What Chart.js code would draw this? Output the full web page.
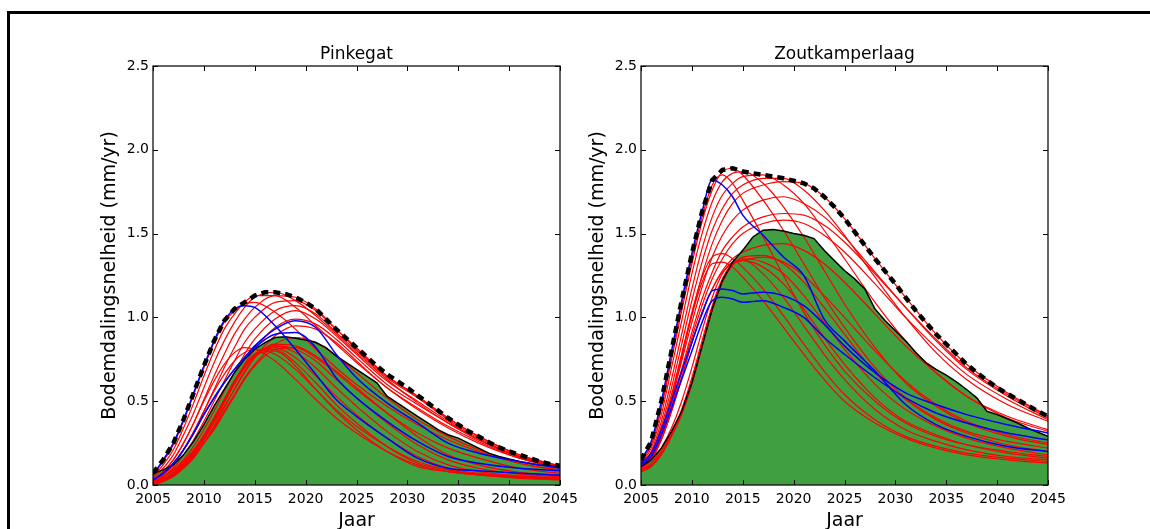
<!DOCTYPE html>
<html><head><meta charset="utf-8">
<script src="https://cdn.jsdelivr.net/npm/chart.js@4/dist/chart.umd.min.js"></script>
<style>
html,body{margin:0;padding:0;background:#fff;overflow:hidden;width:1150px;height:529px;}
#frame{position:absolute;left:7px;top:11px;width:1300px;height:700px;border:3px solid #000;box-sizing:border-box;}
#w1{position:absolute;left:0;top:0;width:600px;height:529px;}
#w2{position:absolute;left:580px;top:0;width:570px;height:529px;}
</style></head><body>
<div id="frame"></div>
<div id="w1"><canvas id="c1" width="600" height="529"></canvas></div>
<div id="w2"><canvas id="c2" width="570" height="529"></canvas></div>
<script>
// ---------- data ----------
const xTicks = [2005,2010,2015,2020,2025,2030,2035,2040,2045];
const yTicks = [0.0,0.5,1.0,1.5,2.0,2.5];
const titles = ['Pinkegat','Zoutkamperlaag'];
const xLabel = 'Jaar';
const yLabel = 'Bodemdalingsnelheid (mm/yr)';

const years = [2005,2006,2007,2008,2009,2010,2011,2012,2013,2014,2015,2017,2019,2021,2023,2025,2028,2031,2034,2037,2041,2045];
const yearsAnnual = [2005,2006,2007,2008,2009,2010,2011,2012,2013,2014,2015,2016,2017,2018,2019,2020,2021,2022,2023,2024,2025,2026,2027,2028,2029,2030,2031,2032,2033,2034,2035,2036,2037,2038,2039,2040,2041,2042,2043,2044,2045];

const pinkEnvelope = [0.07,0.15,0.25,0.39,0.55,0.71,0.86,0.98,1.05,1.09,1.13,1.15,1.15,1.14,1.12,1.09,1.05,0.99,0.93,0.875,0.82,0.765,0.71,0.66,0.62,0.58,0.535,0.49,0.445,0.40,0.36,0.32,0.29,0.255,0.225,0.20,0.18,0.16,0.14,0.125,0.115];
const pinkArea = [0.07,0.09,0.12,0.18,0.26,0.36,0.47,0.57,0.67,0.75,0.81,0.85,0.88,0.885,0.875,0.865,0.85,0.82,0.77,0.73,0.69,0.65,0.61,0.53,0.49,0.45,0.41,0.37,0.33,0.30,0.28,0.25,0.22,0.19,0.17,0.155,0.14,0.13,0.12,0.115,0.11];
const pinkRed = [
 [0.06,0.14,0.24,0.38,0.54,0.70,0.85,0.97,1.04,1.08,1.09,1.03,0.93,0.81,0.70,0.60,0.47,0.36,0.27,0.20,0.13,0.09],
 [0.05,0.12,0.21,0.34,0.49,0.65,0.80,0.93,1.02,1.09,1.13,1.13,1.06,0.95,0.84,0.73,0.58,0.45,0.34,0.25,0.16,0.105],
 [0.04,0.10,0.18,0.30,0.43,0.58,0.73,0.86,0.97,1.06,1.12,1.15,1.10,1.01,0.90,0.79,0.63,0.49,0.37,0.27,0.17,0.11],
 [0.03,0.08,0.15,0.25,0.37,0.51,0.65,0.78,0.90,0.99,1.06,1.13,1.12,1.05,0.93,0.82,0.65,0.53,0.40,0.29,0.18,0.115],
 [0.03,0.07,0.12,0.21,0.31,0.44,0.57,0.70,0.82,0.93,1.00,1.09,1.10,1.04,0.93,0.81,0.65,0.53,0.40,0.29,0.18,0.11],
 [0.02,0.05,0.10,0.18,0.27,0.38,0.50,0.62,0.74,0.85,0.93,1.04,1.07,1.02,0.91,0.80,0.64,0.52,0.39,0.28,0.17,0.11],
 [0.02,0.05,0.09,0.15,0.23,0.33,0.44,0.56,0.67,0.78,0.87,0.99,1.04,0.99,0.89,0.78,0.62,0.50,0.38,0.27,0.17,0.105],
 [0.02,0.04,0.08,0.14,0.21,0.30,0.40,0.51,0.62,0.72,0.81,0.94,0.99,0.96,0.87,0.76,0.60,0.48,0.37,0.27,0.165,0.10],
 [0.01,0.04,0.07,0.12,0.19,0.27,0.37,0.47,0.57,0.67,0.76,0.89,0.95,0.93,0.85,0.74,0.58,0.46,0.35,0.26,0.16,0.10],
 [0.01,0.03,0.06,0.11,0.17,0.25,0.34,0.44,0.54,0.64,0.72,0.84,0.88,0.85,0.77,0.67,0.52,0.39,0.29,0.21,0.13,0.085],
 [0.01,0.03,0.06,0.11,0.17,0.25,0.33,0.43,0.53,0.63,0.71,0.81,0.82,0.76,0.67,0.57,0.43,0.31,0.22,0.16,0.10,0.07],
 [0.01,0.03,0.07,0.13,0.20,0.29,0.40,0.51,0.62,0.71,0.78,0.82,0.76,0.65,0.53,0.42,0.28,0.17,0.10,0.07,0.05,0.04],
 [0.01,0.03,0.07,0.13,0.20,0.29,0.40,0.51,0.62,0.71,0.78,0.81,0.73,0.61,0.48,0.37,0.23,0.13,0.09,0.06,0.045,0.035],
 [0.01,0.03,0.06,0.12,0.19,0.28,0.39,0.50,0.61,0.70,0.77,0.80,0.71,0.57,0.44,0.33,0.20,0.11,0.08,0.06,0.04,0.03],
 [0.01,0.03,0.06,0.12,0.19,0.28,0.39,0.50,0.61,0.71,0.78,0.83,0.79,0.70,0.58,0.47,0.32,0.20,0.12,0.08,0.055,0.045],
 [0.01,0.03,0.06,0.11,0.18,0.27,0.38,0.49,0.60,0.70,0.77,0.83,0.81,0.74,0.63,0.52,0.37,0.24,0.15,0.10,0.065,0.05],
 [0.00,0.02,0.05,0.10,0.16,0.25,0.35,0.46,0.57,0.68,0.76,0.84,0.83,0.77,0.68,0.58,0.43,0.29,0.18,0.12,0.075,0.055],
 [0.03,0.08,0.15,0.25,0.37,0.50,0.62,0.72,0.79,0.82,0.81,0.74,0.63,0.51,0.40,0.31,0.20,0.12,0.08,0.06,0.045,0.035],
 [0.02,0.06,0.12,0.21,0.32,0.44,0.56,0.66,0.74,0.79,0.81,0.78,0.69,0.57,0.45,0.35,0.23,0.14,0.09,0.065,0.05,0.04]
];
const pinkBlue = [
 [0.06,0.15,0.25,0.39,0.55,0.71,0.86,0.98,1.05,1.07,1.06,0.95,0.81,0.66,0.51,0.41,0.28,0.16,0.10,0.085,0.07,0.06],
 [0.03,0.07,0.13,0.21,0.31,0.42,0.52,0.61,0.69,0.76,0.83,0.93,0.98,0.94,0.78,0.64,0.49,0.37,0.25,0.19,0.14,0.10],
 [0.03,0.07,0.13,0.21,0.31,0.42,0.52,0.61,0.69,0.76,0.82,0.90,0.91,0.82,0.64,0.52,0.38,0.26,0.17,0.13,0.10,0.085]
];

const zoutEnvelope = [0.15,0.26,0.50,0.80,1.10,1.38,1.63,1.82,1.88,1.89,1.87,1.86,1.85,1.84,1.83,1.815,1.80,1.77,1.72,1.66,1.59,1.51,1.43,1.35,1.275,1.20,1.12,1.04,0.97,0.90,0.84,0.78,0.72,0.67,0.625,0.58,0.545,0.51,0.475,0.44,0.41];
const zoutArea = [0.11,0.15,0.22,0.32,0.44,0.61,0.83,1.05,1.22,1.33,1.40,1.48,1.52,1.525,1.515,1.50,1.49,1.47,1.40,1.34,1.28,1.23,1.17,1.05,0.98,0.92,0.86,0.79,0.73,0.69,0.655,0.615,0.57,0.52,0.44,0.42,0.395,0.37,0.34,0.315,0.29];
const zoutRed = [
 [0.14,0.24,0.46,0.75,1.04,1.32,1.57,1.76,1.87,1.89,1.85,1.70,1.52,1.32,1.12,0.94,0.70,0.52,0.40,0.32,0.26,0.22],
 [0.14,0.24,0.47,0.77,1.07,1.35,1.60,1.79,1.85,1.80,1.70,1.48,1.25,1.03,0.84,0.68,0.50,0.37,0.29,0.24,0.20,0.17],
 [0.13,0.22,0.42,0.70,0.98,1.26,1.50,1.69,1.81,1.86,1.87,1.80,1.66,1.48,1.28,1.08,0.82,0.61,0.47,0.37,0.29,0.24],
 [0.12,0.20,0.38,0.63,0.90,1.17,1.41,1.60,1.73,1.80,1.84,1.85,1.79,1.68,1.52,1.35,1.09,0.86,0.67,0.53,0.40,0.32],
 [0.12,0.19,0.35,0.58,0.84,1.10,1.33,1.52,1.65,1.74,1.79,1.83,1.83,1.76,1.64,1.49,1.24,1.00,0.79,0.63,0.48,0.38],
 [0.11,0.18,0.33,0.54,0.78,1.02,1.25,1.44,1.58,1.68,1.74,1.79,1.81,1.80,1.72,1.59,1.35,1.12,0.90,0.72,0.55,0.41],
 [0.11,0.17,0.31,0.51,0.74,0.97,1.18,1.36,1.49,1.58,1.64,1.70,1.72,1.68,1.60,1.48,1.27,1.06,0.86,0.69,0.53,0.40],
 [0.10,0.16,0.29,0.48,0.69,0.91,1.11,1.27,1.40,1.48,1.54,1.60,1.62,1.61,1.55,1.45,1.26,1.06,0.87,0.70,0.54,0.41],
 [0.10,0.16,0.28,0.46,0.67,0.88,1.07,1.23,1.35,1.44,1.50,1.56,1.58,1.56,1.49,1.39,1.20,1.00,0.82,0.66,0.51,0.39],
 [0.10,0.15,0.27,0.44,0.64,0.85,1.03,1.17,1.28,1.35,1.39,1.43,1.44,1.40,1.32,1.21,1.02,0.83,0.67,0.53,0.41,0.33],
 [0.10,0.15,0.27,0.44,0.64,0.85,1.03,1.17,1.27,1.32,1.34,1.36,1.33,1.25,1.13,1.00,0.80,0.62,0.48,0.38,0.30,0.25],
 [0.10,0.16,0.30,0.52,0.78,1.03,1.24,1.36,1.38,1.35,1.30,1.17,1.01,0.84,0.68,0.54,0.39,0.29,0.23,0.19,0.16,0.14],
 [0.09,0.13,0.22,0.34,0.50,0.70,0.92,1.12,1.26,1.33,1.34,1.26,1.12,0.95,0.78,0.63,0.45,0.33,0.26,0.21,0.17,0.15],
 [0.09,0.12,0.20,0.31,0.45,0.64,0.86,1.07,1.23,1.32,1.34,1.30,1.20,1.05,0.88,0.72,0.52,0.38,0.30,0.24,0.19,0.16],
 [0.08,0.11,0.19,0.30,0.43,0.61,0.83,1.05,1.22,1.32,1.35,1.33,1.26,1.13,0.97,0.81,0.60,0.45,0.35,0.28,0.22,0.18],
 [0.08,0.11,0.18,0.29,0.42,0.60,0.82,1.04,1.21,1.31,1.36,1.37,1.32,1.21,1.06,0.90,0.67,0.51,0.39,0.31,0.24,0.20],
 [0.10,0.16,0.29,0.50,0.76,1.01,1.21,1.32,1.33,1.30,1.24,1.10,0.94,0.78,0.63,0.50,0.37,0.28,0.22,0.18,0.15,0.13]
];
const zoutBlue = [
 [0.15,0.26,0.50,0.80,1.10,1.38,1.63,1.82,1.79,1.72,1.61,1.49,1.36,1.25,0.99,0.86,0.68,0.48,0.36,0.29,0.23,0.20],
 [0.13,0.19,0.33,0.50,0.68,0.85,1.02,1.16,1.17,1.16,1.14,1.15,1.13,1.07,0.96,0.83,0.67,0.55,0.48,0.42,0.36,0.31],
 [0.12,0.17,0.30,0.46,0.63,0.80,0.97,1.10,1.12,1.11,1.09,1.10,1.06,1.00,0.88,0.78,0.64,0.52,0.43,0.37,0.31,0.27]
];

// ---------- helpers ----------
const FONT = "'DejaVu Sans', sans-serif";
const pts = (xs, ys) => xs.map((x, i) => ({x: x, y: ys[i]}));

const mplFrame = {
  id: 'mplFrame',
  afterDatasetsDraw(chart) {
    const {ctx, chartArea: a, scales: {x, y}} = chart;
    ctx.save();
    ctx.strokeStyle = '#000';
    ctx.lineWidth = 1;
    ctx.beginPath();
    x.ticks.forEach(t => {
      const px = Math.round(x.getPixelForValue(t.value)) + 0.5;
      ctx.moveTo(px, a.bottom); ctx.lineTo(px, a.bottom - 5);
      ctx.moveTo(px, a.top); ctx.lineTo(px, a.top + 5);
    });
    y.ticks.forEach(t => {
      const py = Math.round(y.getPixelForValue(t.value)) + 0.5;
      ctx.moveTo(a.left, py); ctx.lineTo(a.left + 5, py);
      ctx.moveTo(a.right, py); ctx.lineTo(a.right - 5, py);
    });
    ctx.stroke();
    ctx.lineWidth = 1.3;
    ctx.strokeStyle = '#111';
    ctx.strokeRect(a.left, a.top, a.right - a.left, a.bottom - a.top);
    ctx.restore();
  }
};

function makeChart(canvasId, title, envelope, area, reds, blues, geo) {
  const datasets = [];
  datasets.push({data: pts(yearsAnnual, envelope), borderColor: '#000', borderWidth: 4.5, borderDash: [7, 5], pointRadius: 0, fill: false, tension: 0, order: 0});
  blues.forEach(b => datasets.push({data: pts(years, b), borderColor: '#0000ff', borderWidth: 1.5, pointRadius: 0, fill: false, cubicInterpolationMode: 'monotone', order: 1}));
  datasets.push({data: pts(yearsAnnual, area), borderColor: '#000', borderWidth: 1.5, pointRadius: 0, fill: false, tension: 0, order: 2});
  reds.forEach(r => datasets.push({data: pts(years, r), borderColor: '#ff0000', borderWidth: 1.2, pointRadius: 0, fill: false, cubicInterpolationMode: 'monotone', order: 3}));
  datasets.push({data: pts(yearsAnnual, area), borderWidth: 0, borderColor: 'rgba(0,0,0,0)', backgroundColor: 'rgba(0,128,0,0.75)', pointRadius: 0, fill: 'origin', tension: 0, order: 4});

  return new Chart(document.getElementById(canvasId), {
    type: 'line',
    data: {datasets},
    options: {
      responsive: false, animation: false, events: [],
      layout: {padding: {left: 0, right: geo.padRight, top: 0, bottom: 0}},
      plugins: {legend: {display: false}, tooltip: {enabled: false}},
      scales: {
        x: {
          type: 'linear', position: 'bottom', min: 2005, max: 2045,
          afterBuildTicks: s => { s.ticks = xTicks.map(v => ({value: v})); },
          afterFit: s => { s.height = 44; },
          grid: {display: false, drawTicks: false},
          border: {display: false},
          ticks: {autoSkip: false, maxRotation: 0, padding: 6, color: '#000', font: {family: FONT, size: 14}, callback: v => String(v)},
          title: {display: true, text: xLabel, color: '#000', font: {family: FONT, size: 19}, padding: {top: 0, bottom: -3}}
        },
        xt: {
          type: 'linear', position: 'top', min: 2005, max: 2045,
          afterFit: s => { s.height = 66; },
          grid: {display: false, drawTicks: false},
          border: {display: false},
          ticks: {display: false},
          title: {display: true, text: title, color: '#000', font: {family: FONT, size: 17}, padding: {top: 44, bottom: 0}}
        },
        y: {
          type: 'linear', position: 'left', min: 0, max: 2.5,
          afterBuildTicks: s => { s.ticks = yTicks.map(v => ({value: v})); },
          afterFit: s => { s.width = geo.yWidth; },
          grid: {display: false, drawTicks: false},
          border: {display: false},
          ticks: {padding: 4, color: '#000', font: {family: FONT, size: 14}, callback: v => Number(v).toFixed(1)},
          title: {display: true, text: yLabel, color: '#000', font: {family: FONT, size: 19}, padding: {top: geo.yTitlePad, bottom: 0}}
        }
      }
    },
    plugins: [mplFrame]
  });
}

makeChart('c1', titles[0], pinkEnvelope, pinkArea, pinkRed, pinkBlue, {padRight: 40, yWidth: 153, yTitlePad: 99});
makeChart('c2', titles[1], zoutEnvelope, zoutArea, zoutRed, zoutBlue, {padRight: 102, yWidth: 61, yTitlePad: 7});
</script>
</body></html>
